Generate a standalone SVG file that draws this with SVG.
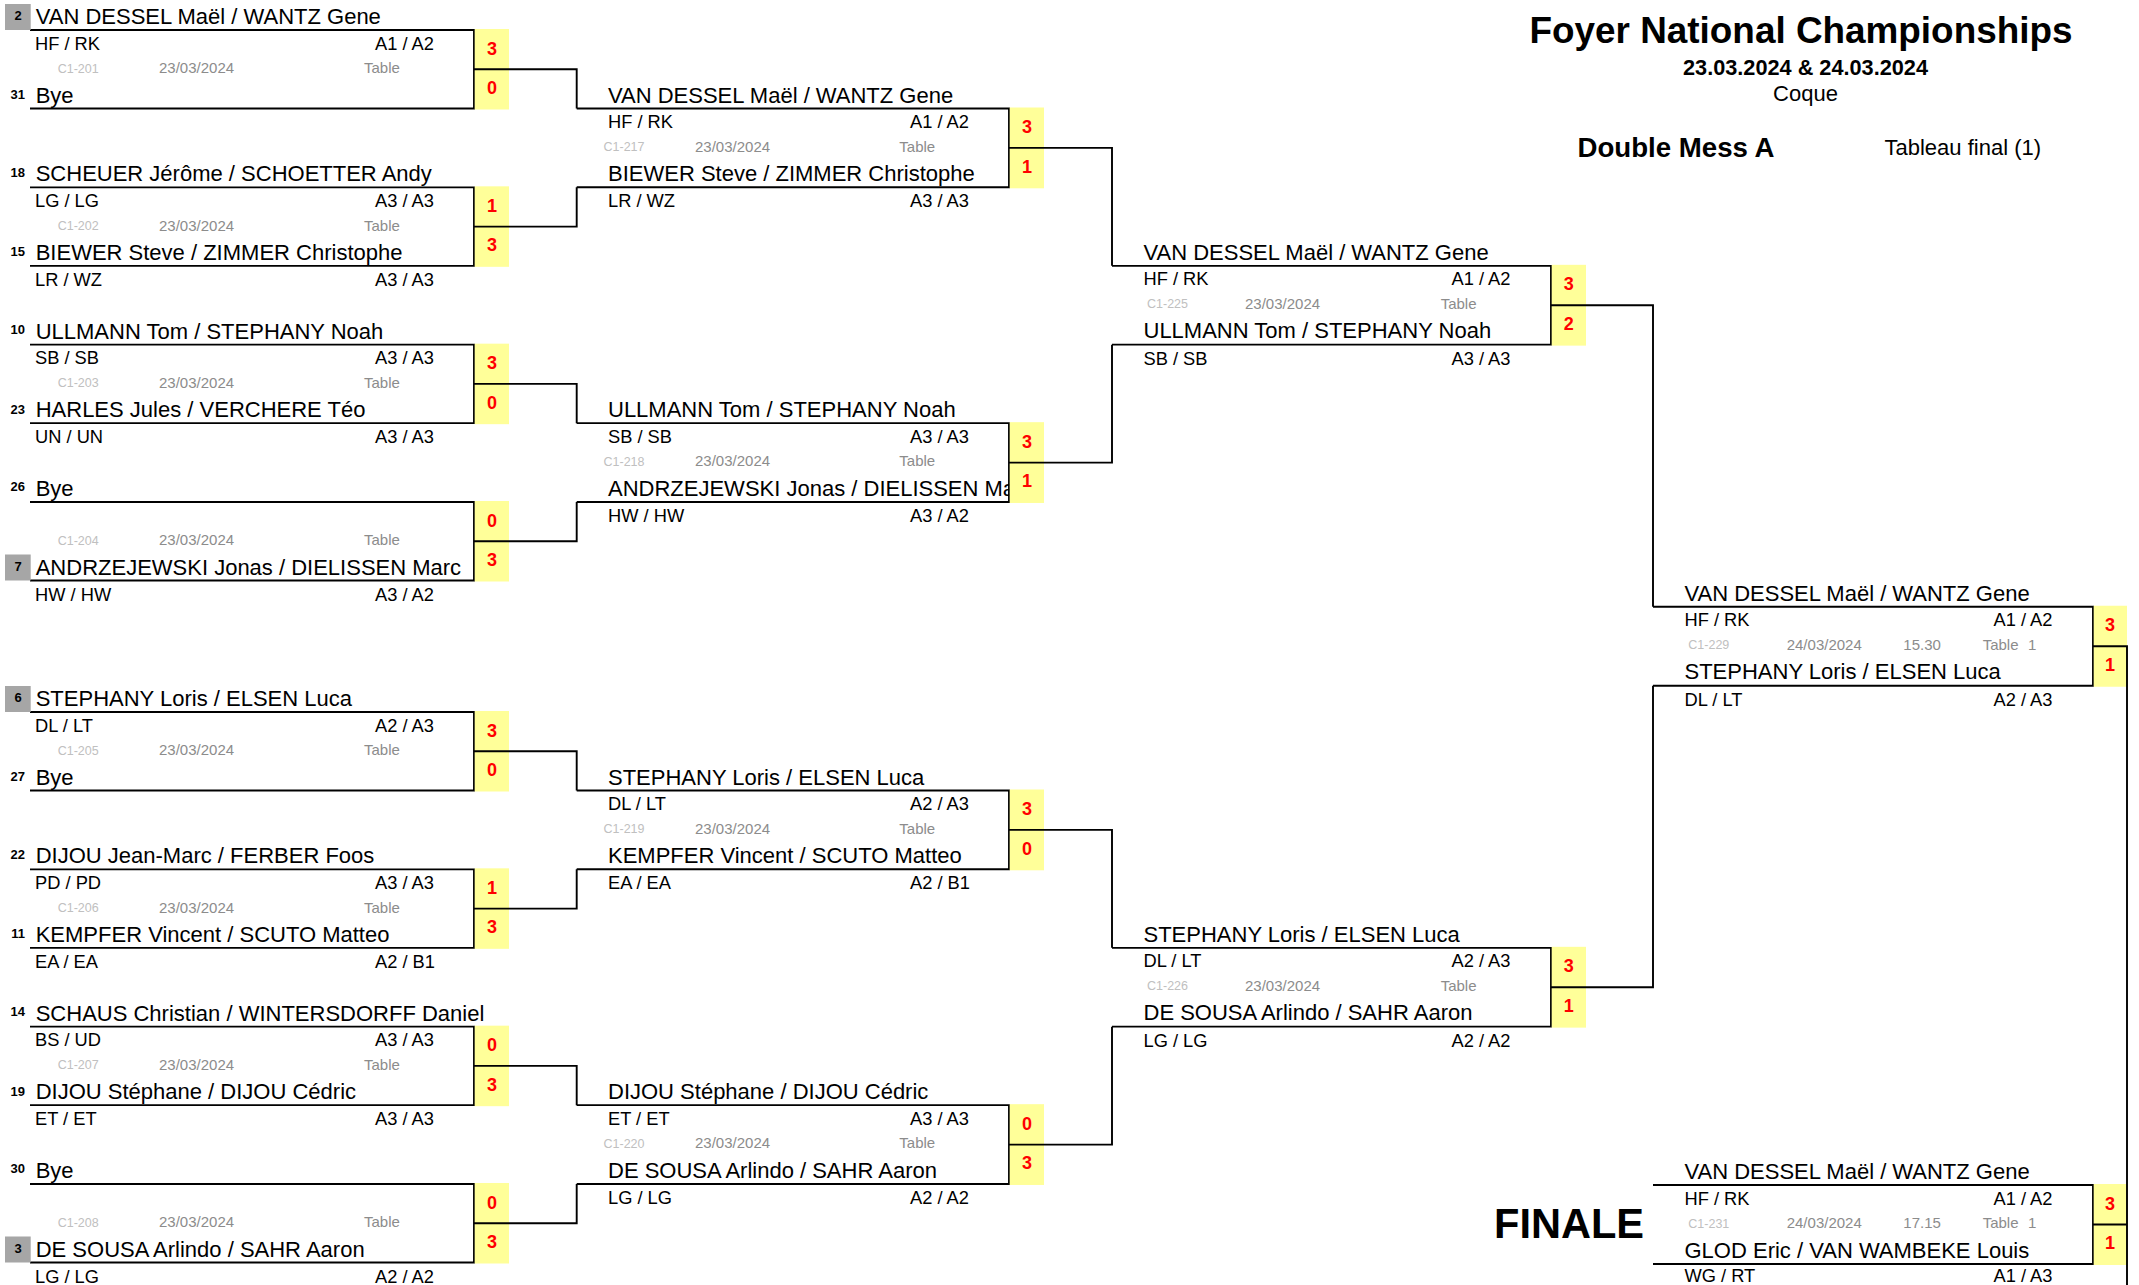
<svg xmlns="http://www.w3.org/2000/svg" width="2139" height="1285" viewBox="0 0 2139 1285">
<style>
text{font-family:"Liberation Sans",Arial,sans-serif;fill:#000}
.box,.con{fill:none;stroke:#000;stroke-width:1.9}
.sc{fill:#ffff99}
.seed{fill:#a6a6a6}
.nm{font-size:22px}
.inf{font-size:18.3px}
.cn{font-size:12.5px;fill:#c0c0c0}
.dt{font-size:15px;fill:#8c8c8c}
.sn{font-size:13px;font-weight:bold}
.s{font-size:18px;font-weight:bold;fill:#ff0000;text-anchor:middle}
.hb{font-weight:bold}
</style>
<rect width="2139" height="1285" fill="#fff"/>

<g id="header">
<text class="hb" x="1801" y="43" font-size="36" text-anchor="middle" textLength="543" lengthAdjust="spacingAndGlyphs">Foyer National Championships</text>
<text class="hb" x="1805.5" y="75" font-size="22" text-anchor="middle" textLength="245" lengthAdjust="spacingAndGlyphs">23.03.2024 &amp; 24.03.2024</text>
<text x="1805.5" y="101" font-size="22" text-anchor="middle">Coque</text>
<text class="hb" x="1577.5" y="157" font-size="27" textLength="197" lengthAdjust="spacingAndGlyphs">Double Mess A</text>
<text x="1884.5" y="155" font-size="22">Tableau final (1)</text>
<text class="hb" x="1494" y="1238" font-size="42" textLength="150" lengthAdjust="spacingAndGlyphs">FINALE</text>
</g>

<!-- Round 1 -->
<g id="m201" transform="translate(0,30)">
<path class="box" d="M30,0H474V78.5H30"/>
<rect class="seed" x="5" y="-26" width="25.7" height="26"/>
<text class="sn" x="18" y="-10.5" text-anchor="middle">2</text>
<text class="nm" x="35.7" y="-6">VAN DESSEL Maël / WANTZ Gene</text>
<text class="inf" x="35" y="19.5">HF / RK</text><text class="inf" x="375" y="19.5">A1 / A2</text>
<text class="cn" x="57.7" y="42.5">C1-201</text><text class="dt" x="159" y="43.3">23/03/2024</text><text class="dt" x="364" y="43.3">Table</text>
<text class="sn" x="25" y="69" text-anchor="end">31</text>
<text class="nm" x="35.7" y="72.5">Bye</text>
<rect class="sc" x="474.7" y="-1" width="34.3" height="80.5"/>
<text class="s" x="492" y="24.5">3</text><text class="s" x="492" y="64">0</text>
</g>

<g id="m202" transform="translate(0,187.33)">
<path class="box" d="M30,0H474V78.5H30"/>
<text class="sn" x="25" y="-10.7" text-anchor="end">18</text>
<text class="nm" x="35.7" y="-6">SCHEUER Jérôme / SCHOETTER Andy</text>
<text class="inf" x="35" y="19.5">LG / LG</text><text class="inf" x="375" y="19.5">A3 / A3</text>
<text class="cn" x="57.7" y="42.5">C1-202</text><text class="dt" x="159" y="43.3">23/03/2024</text><text class="dt" x="364" y="43.3">Table</text>
<text class="sn" x="25" y="69" text-anchor="end">15</text>
<text class="nm" x="35.7" y="72.5">BIEWER Steve / ZIMMER Christophe</text>
<text class="inf" x="35" y="98.5">LR / WZ</text><text class="inf" x="375" y="98.5">A3 / A3</text>
<rect class="sc" x="474.7" y="-1" width="34.3" height="80.5"/>
<text class="s" x="492" y="24.5">1</text><text class="s" x="492" y="64">3</text>
</g>

<g id="m203" transform="translate(0,344.67)">
<path class="box" d="M30,0H474V78.5H30"/>
<text class="sn" x="25" y="-10.7" text-anchor="end">10</text>
<text class="nm" x="35.7" y="-6">ULLMANN Tom / STEPHANY Noah</text>
<text class="inf" x="35" y="19.5">SB / SB</text><text class="inf" x="375" y="19.5">A3 / A3</text>
<text class="cn" x="57.7" y="42.5">C1-203</text><text class="dt" x="159" y="43.3">23/03/2024</text><text class="dt" x="364" y="43.3">Table</text>
<text class="sn" x="25" y="69" text-anchor="end">23</text>
<text class="nm" x="35.7" y="72.5">HARLES Jules / VERCHERE Téo</text>
<text class="inf" x="35" y="98.5">UN / UN</text><text class="inf" x="375" y="98.5">A3 / A3</text>
<rect class="sc" x="474.7" y="-1" width="34.3" height="80.5"/>
<text class="s" x="492" y="24.5">3</text><text class="s" x="492" y="64">0</text>
</g>

<g id="m204" transform="translate(0,502)">
<path class="box" d="M30,0H474V78.5H30"/>
<text class="sn" x="25" y="-10.7" text-anchor="end">26</text>
<text class="nm" x="35.7" y="-6">Bye</text>
<text class="cn" x="57.7" y="42.5">C1-204</text><text class="dt" x="159" y="43.3">23/03/2024</text><text class="dt" x="364" y="43.3">Table</text>
<rect class="seed" x="5" y="52.5" width="25.7" height="26"/>
<text class="sn" x="18" y="68.5" text-anchor="middle">7</text>
<text class="nm" x="35.7" y="72.5">ANDRZEJEWSKI Jonas / DIELISSEN Marc</text>
<text class="inf" x="35" y="98.5">HW / HW</text><text class="inf" x="375" y="98.5">A3 / A2</text>
<rect class="sc" x="474.7" y="-1" width="34.3" height="80.5"/>
<text class="s" x="492" y="24.5">0</text><text class="s" x="492" y="64">3</text>
</g>

<g id="m205" transform="translate(0,712)">
<path class="box" d="M30,0H474V78.5H30"/>
<rect class="seed" x="5" y="-26" width="25.7" height="26"/>
<text class="sn" x="18" y="-10.5" text-anchor="middle">6</text>
<text class="nm" x="35.7" y="-6">STEPHANY Loris / ELSEN Luca</text>
<text class="inf" x="35" y="19.5">DL / LT</text><text class="inf" x="375" y="19.5">A2 / A3</text>
<text class="cn" x="57.7" y="42.5">C1-205</text><text class="dt" x="159" y="43.3">23/03/2024</text><text class="dt" x="364" y="43.3">Table</text>
<text class="sn" x="25" y="69" text-anchor="end">27</text>
<text class="nm" x="35.7" y="72.5">Bye</text>
<rect class="sc" x="474.7" y="-1" width="34.3" height="80.5"/>
<text class="s" x="492" y="24.5">3</text><text class="s" x="492" y="64">0</text>
</g>

<g id="m206" transform="translate(0,869.33)">
<path class="box" d="M30,0H474V78.5H30"/>
<text class="sn" x="25" y="-10.7" text-anchor="end">22</text>
<text class="nm" x="35.7" y="-6">DIJOU Jean-Marc / FERBER Foos</text>
<text class="inf" x="35" y="19.5">PD / PD</text><text class="inf" x="375" y="19.5">A3 / A3</text>
<text class="cn" x="57.7" y="42.5">C1-206</text><text class="dt" x="159" y="43.3">23/03/2024</text><text class="dt" x="364" y="43.3">Table</text>
<text class="sn" x="25" y="69" text-anchor="end">11</text>
<text class="nm" x="35.7" y="72.5">KEMPFER Vincent / SCUTO Matteo</text>
<text class="inf" x="35" y="98.5">EA / EA</text><text class="inf" x="375" y="98.5">A2 / B1</text>
<rect class="sc" x="474.7" y="-1" width="34.3" height="80.5"/>
<text class="s" x="492" y="24.5">1</text><text class="s" x="492" y="64">3</text>
</g>

<g id="m207" transform="translate(0,1026.67)">
<path class="box" d="M30,0H474V78.5H30"/>
<text class="sn" x="25" y="-10.7" text-anchor="end">14</text>
<text class="nm" x="35.7" y="-6">SCHAUS Christian / WINTERSDORFF Daniel</text>
<text class="inf" x="35" y="19.5">BS / UD</text><text class="inf" x="375" y="19.5">A3 / A3</text>
<text class="cn" x="57.7" y="42.5">C1-207</text><text class="dt" x="159" y="43.3">23/03/2024</text><text class="dt" x="364" y="43.3">Table</text>
<text class="sn" x="25" y="69" text-anchor="end">19</text>
<text class="nm" x="35.7" y="72.5">DIJOU Stéphane / DIJOU Cédric</text>
<text class="inf" x="35" y="98.5">ET / ET</text><text class="inf" x="375" y="98.5">A3 / A3</text>
<rect class="sc" x="474.7" y="-1" width="34.3" height="80.5"/>
<text class="s" x="492" y="24.5">0</text><text class="s" x="492" y="64">3</text>
</g>

<g id="m208" transform="translate(0,1184)">
<path class="box" d="M30,0H474V78.5H30"/>
<text class="sn" x="25" y="-10.7" text-anchor="end">30</text>
<text class="nm" x="35.7" y="-6">Bye</text>
<text class="cn" x="57.7" y="42.5">C1-208</text><text class="dt" x="159" y="43.3">23/03/2024</text><text class="dt" x="364" y="43.3">Table</text>
<rect class="seed" x="5" y="52.5" width="25.7" height="26"/>
<text class="sn" x="18" y="68.5" text-anchor="middle">3</text>
<text class="nm" x="35.7" y="72.5">DE SOUSA Arlindo / SAHR Aaron</text>
<text class="inf" x="35" y="98.5">LG / LG</text><text class="inf" x="375" y="98.5">A2 / A2</text>
<rect class="sc" x="474.7" y="-1" width="34.3" height="80.5"/>
<text class="s" x="492" y="24.5">0</text><text class="s" x="492" y="64">3</text>
</g>

<!-- Round 2 -->
<g id="m217" transform="translate(0,108.5)">
<path class="box" d="M576.7,0H1009V78.8H576.7"/>
<text class="nm" x="608" y="-6">VAN DESSEL Maël / WANTZ Gene</text>
<text class="inf" x="608" y="19.5">HF / RK</text><text class="inf" x="910" y="19.5">A1 / A2</text>
<text class="cn" x="603.5" y="42.5">C1-217</text><text class="dt" x="695" y="43.3">23/03/2024</text><text class="dt" x="899.3" y="43.3">Table</text>
<text class="nm" x="608" y="72.5">BIEWER Steve / ZIMMER Christophe</text>
<text class="inf" x="608" y="98.8">LR / WZ</text><text class="inf" x="910" y="98.8">A3 / A3</text>
<rect class="sc" x="1009.7" y="-1" width="34.3" height="80.8"/>
<text class="s" x="1027" y="24.5">3</text><text class="s" x="1027" y="64">1</text>
</g>

<g id="m218" transform="translate(0,423.17)">
<path class="box" d="M576.7,0H1009V78.8H576.7"/>
<text class="nm" x="608" y="-6">ULLMANN Tom / STEPHANY Noah</text>
<text class="inf" x="608" y="19.5">SB / SB</text><text class="inf" x="910" y="19.5">A3 / A3</text>
<text class="cn" x="603.5" y="42.5">C1-218</text><text class="dt" x="695" y="43.3">23/03/2024</text><text class="dt" x="899.3" y="43.3">Table</text>
<text class="nm" x="608" y="72.5">ANDRZEJEWSKI Jonas / DIELISSEN Ma</text>
<text class="inf" x="608" y="98.8">HW / HW</text><text class="inf" x="910" y="98.8">A3 / A2</text>
<rect class="sc" x="1009.7" y="-1" width="34.3" height="80.8"/>
<text class="s" x="1027" y="24.5">3</text><text class="s" x="1027" y="64">1</text>
</g>

<g id="m219" transform="translate(0,790.5)">
<path class="box" d="M576.7,0H1009V78.8H576.7"/>
<text class="nm" x="608" y="-6">STEPHANY Loris / ELSEN Luca</text>
<text class="inf" x="608" y="19.5">DL / LT</text><text class="inf" x="910" y="19.5">A2 / A3</text>
<text class="cn" x="603.5" y="42.5">C1-219</text><text class="dt" x="695" y="43.3">23/03/2024</text><text class="dt" x="899.3" y="43.3">Table</text>
<text class="nm" x="608" y="72.5">KEMPFER Vincent / SCUTO Matteo</text>
<text class="inf" x="608" y="98.8">EA / EA</text><text class="inf" x="910" y="98.8">A2 / B1</text>
<rect class="sc" x="1009.7" y="-1" width="34.3" height="80.8"/>
<text class="s" x="1027" y="24.5">3</text><text class="s" x="1027" y="64">0</text>
</g>

<g id="m220" transform="translate(0,1105.17)">
<path class="box" d="M576.7,0H1009V78.8H576.7"/>
<text class="nm" x="608" y="-6">DIJOU Stéphane / DIJOU Cédric</text>
<text class="inf" x="608" y="19.5">ET / ET</text><text class="inf" x="910" y="19.5">A3 / A3</text>
<text class="cn" x="603.5" y="42.5">C1-220</text><text class="dt" x="695" y="43.3">23/03/2024</text><text class="dt" x="899.3" y="43.3">Table</text>
<text class="nm" x="608" y="72.5">DE SOUSA Arlindo / SAHR Aaron</text>
<text class="inf" x="608" y="98.8">LG / LG</text><text class="inf" x="910" y="98.8">A2 / A2</text>
<rect class="sc" x="1009.7" y="-1" width="34.3" height="80.8"/>
<text class="s" x="1027" y="24.5">0</text><text class="s" x="1027" y="64">3</text>
</g>

<!-- Round 3 -->
<g id="m225" transform="translate(0,265.83)">
<path class="box" d="M1112,0H1551V78.8H1112"/>
<text class="nm" x="1143.5" y="-6">VAN DESSEL Maël / WANTZ Gene</text>
<text class="inf" x="1143.5" y="19.5">HF / RK</text><text class="inf" x="1451.5" y="19.5">A1 / A2</text>
<text class="cn" x="1147" y="42.5">C1-225</text><text class="dt" x="1245" y="43.3">23/03/2024</text><text class="dt" x="1440.7" y="43.3">Table</text>
<text class="nm" x="1143.5" y="72.5">ULLMANN Tom / STEPHANY Noah</text>
<text class="inf" x="1143.5" y="98.8">SB / SB</text><text class="inf" x="1451.5" y="98.8">A3 / A3</text>
<rect class="sc" x="1551.7" y="-1" width="34.3" height="80.8"/>
<text class="s" x="1568.8" y="24.5">3</text><text class="s" x="1568.8" y="64">2</text>
</g>

<g id="m226" transform="translate(0,947.83)">
<path class="box" d="M1112,0H1551V78.8H1112"/>
<text class="nm" x="1143.5" y="-6">STEPHANY Loris / ELSEN Luca</text>
<text class="inf" x="1143.5" y="19.5">DL / LT</text><text class="inf" x="1451.5" y="19.5">A2 / A3</text>
<text class="cn" x="1147" y="42.5">C1-226</text><text class="dt" x="1245" y="43.3">23/03/2024</text><text class="dt" x="1440.7" y="43.3">Table</text>
<text class="nm" x="1143.5" y="72.5">DE SOUSA Arlindo / SAHR Aaron</text>
<text class="inf" x="1143.5" y="98.8">LG / LG</text><text class="inf" x="1451.5" y="98.8">A2 / A2</text>
<rect class="sc" x="1551.7" y="-1" width="34.3" height="80.8"/>
<text class="s" x="1568.8" y="24.5">3</text><text class="s" x="1568.8" y="64">1</text>
</g>

<!-- Round 4 -->
<g id="m229" transform="translate(0,606.75)">
<path class="box" d="M1653,0H2093V79H1653"/>
<text class="nm" x="1684.5" y="-6">VAN DESSEL Maël / WANTZ Gene</text>
<text class="inf" x="1684.5" y="19.5">HF / RK</text><text class="inf" x="1993.5" y="19.5">A1 / A2</text>
<text class="cn" x="1688.3" y="42.5">C1-229</text><text class="dt" x="1786.7" y="43.3">24/03/2024</text><text class="dt" x="1903.3" y="43.3">15.30</text><text class="dt" x="1982.7" y="43.3">Table</text><text class="dt" x="2028" y="43.3">1</text>
<text class="nm" x="1684.5" y="72.5">STEPHANY Loris / ELSEN Luca</text>
<text class="inf" x="1684.5" y="99">DL / LT</text><text class="inf" x="1993.5" y="99">A2 / A3</text>
<rect class="sc" x="2093.7" y="-1" width="33.3" height="81"/>
<text class="s" x="2110" y="24.5">3</text><text class="s" x="2110" y="64">1</text>
</g>

<!-- Final -->
<g id="m231" transform="translate(0,1185)">
<path class="box" d="M1653,0H2093V79H1653"/>
<text class="nm" x="1684.5" y="-6">VAN DESSEL Maël / WANTZ Gene</text>
<text class="inf" x="1684.5" y="19.5">HF / RK</text><text class="inf" x="1993.5" y="19.5">A1 / A2</text>
<text class="cn" x="1688.3" y="42.5">C1-231</text><text class="dt" x="1786.7" y="43.3">24/03/2024</text><text class="dt" x="1903.3" y="43.3">17.15</text><text class="dt" x="1982.7" y="43.3">Table</text><text class="dt" x="2028" y="43.3">1</text>
<text class="nm" x="1684.5" y="72.5">GLOD Eric / VAN WAMBEKE Louis</text>
<text class="inf" x="1684.5" y="97">WG / RT</text><text class="inf" x="1993.5" y="97">A1 / A3</text>
<rect class="sc" x="2093.7" y="-1" width="33.3" height="81"/>
<text class="s" x="2110" y="24.5">3</text><text class="s" x="2110" y="64">1</text>
</g>

<g id="connectors">
<path class="con" d="M474,69.25H576.7V108.5"/>
<path class="con" d="M474,226.58H576.7V187.33"/>
<path class="con" d="M474,383.92H576.7V423.17"/>
<path class="con" d="M474,541.25H576.7V502"/>
<path class="con" d="M474,751.25H576.7V790.5"/>
<path class="con" d="M474,908.58H576.7V869.33"/>
<path class="con" d="M474,1065.92H576.7V1105.17"/>
<path class="con" d="M474,1223.25H576.7V1184"/>
<path class="con" d="M1009,147.9H1112V265.83"/>
<path class="con" d="M1009,462.6H1112V344.67"/>
<path class="con" d="M1009,829.9H1112V947.83"/>
<path class="con" d="M1009,1144.6H1112V1026.67"/>
<path class="con" d="M1551,305.25H1653V606.75"/>
<path class="con" d="M1551,987.25H1653V685.75"/>
<path class="con" d="M2093,646.25H2127V1285"/>
<path class="con" d="M2093,1224.5H2127"/>
</g>
</svg>
